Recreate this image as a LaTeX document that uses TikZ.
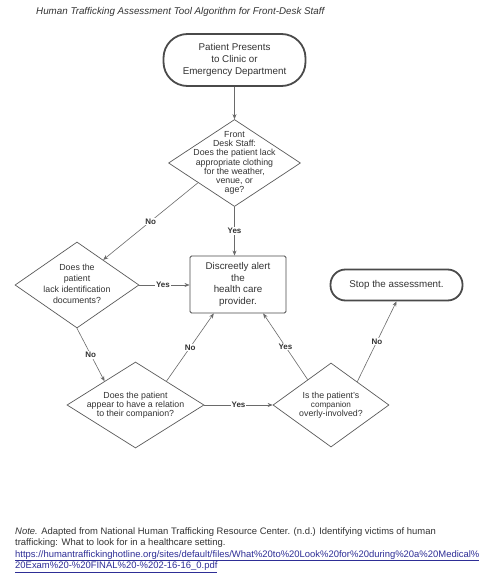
\documentclass[tikz,border=0pt]{standalone}
\usepackage{fontspec}
\setmainfont{Liberation Sans}
\usetikzlibrary{shapes.geometric,arrows.meta,calc}
\definecolor{ln}{HTML}{6A6A6A}
\definecolor{bd}{HTML}{4A4A4A}
\definecolor{dbd}{HTML}{5A5A5A}
\definecolor{txt}{HTML}{333333}
\definecolor{link}{HTML}{2E2E96}
\begin{document}
\begin{tikzpicture}[x=1pt,y=-1pt,
  term/.style={draw=bd, line width=1.8pt, inner sep=0pt, text=txt, align=center,
    font=\fontsize{9.8}{11.7}\selectfont},
  procbox/.style={draw=bd, line width=0.9pt, rounded corners=1.5pt, inner sep=0pt,
    minimum width=96pt, minimum height=57pt, text=txt, align=center,
    font=\fontsize{9.8}{11.7}\selectfont},
  dia/.style={diamond, draw=dbd, line width=0.7pt, inner sep=0pt},
  diat/.style={inner sep=0pt, align=center, text=txt, font=\fontsize{8.8}{9.2}\selectfont},
  arr/.style={draw=ln, line width=0.6pt, -{Stealth[length=5pt,width=4pt]}},
  lab/.style={fill=white, inner sep=1pt, text=txt, font=\bfseries\fontsize{8}{9}\selectfont}]
\useasboundingbox[fill=white] (0,0) rectangle (488,575);

% title
\node[anchor=west, inner sep=0pt, text=txt, font=\itshape\fontsize{9.8}{11}\selectfont]
  (title) at (36,12) {Human Trafficking Assessment Tool Algorithm for Front-Desk Staff};

% nodes
\node[term, rounded corners=24pt, minimum width=142pt, minimum height=52pt]
  (start) at (234.5,60) {Patient Presents\\to Clinic or\\Emergency Department};

\node[dia, minimum width=132pt, minimum height=87pt] (d1) at (234.5,163) {};
\node[diat] (d1t) at (d1) {Front\\Desk Staff:\\Does the patient lack\\appropriate clothing\\for the weather,\\venue, or\\age?};

\node[procbox] (box) at (238,284.5) {Discreetly alert\\the\\health care\\provider.};

\node[dia, minimum width=124pt, minimum height=86pt] (d2) at (77,285) {};
\node[diat, font=\fontsize{8.8}{11}\selectfont] (d2t) at ($(d2)+(0,-1)$) {Does the\\patient\\lack identification\\documents?};

\node[term, rounded corners=15pt, minimum width=132pt, minimum height=31pt]
  (stop) at (396.5,285) {Stop the assessment.};

\node[dia, minimum width=137pt, minimum height=86pt] (d3) at (135.5,405) {};
\node[diat] (d3t) at (d3) {Does the patient\\appear to have a relation\\to their companion?};

\node[dia, minimum width=116pt, minimum height=84pt] (d4) at (331,405) {};
\node[diat] (d4t) at (d4) {Is the patient's\\{\fontsize{8.2}{9.2}\selectfont companion}\\overly-involved?};

% connectors
\draw[arr] (start.south) -- (d1.north);
\draw[arr] ($(d1.west)!0.45!(d1.south)$) -- node[lab]{No} ($(d2.north)!0.42!(d2.east)$);
\draw[arr] (d1.south) -- node[lab]{Yes} (d1.south |- box.north);
\draw[arr] (d2.east) -- node[lab, pos=0.47]{Yes} (d2.east -| box.west);
\draw[arr] (d2.south) -- node[lab]{No} ($(d3.west)!0.55!(d3.north)$);
\draw[arr] ($(d3.north)!0.45!(d3.east)$) -- node[lab]{No} ($(box.south west)!0.25!(box.south east)$);
\draw[arr] ($(d4.north)!0.4!(d4.west)$) -- node[lab]{Yes} ($(box.south west)!0.76!(box.south east)$);
\draw[arr] ($(d4.north)!0.45!(d4.east)$) -- node[lab]{No} (stop.south);
\draw[arr] (d3.east) -- node[lab]{Yes} (d4.west);

% note
\node[anchor=north west, inner sep=0pt, align=left, text=txt, font=\fontsize{9.45}{11.6}\selectfont]
  (note) at (15,527) {\textit{Note.} Adapted from National Human Trafficking Resource Center. (n.d.) Identifying victims of human\\
  trafficking: What to look for in a healthcare setting.\\
  \textcolor{link}{\underline{https://humantraffickinghotline.org/sites/default/files/What\%20to\%20Look\%20for\%20during\%20a\%20Medical\%}}\\
  \textcolor{link}{\underline{20Exam\%20-\%20FINAL\%20-\%202-16-16\_0.pdf}}};
\end{tikzpicture}
\end{document}
